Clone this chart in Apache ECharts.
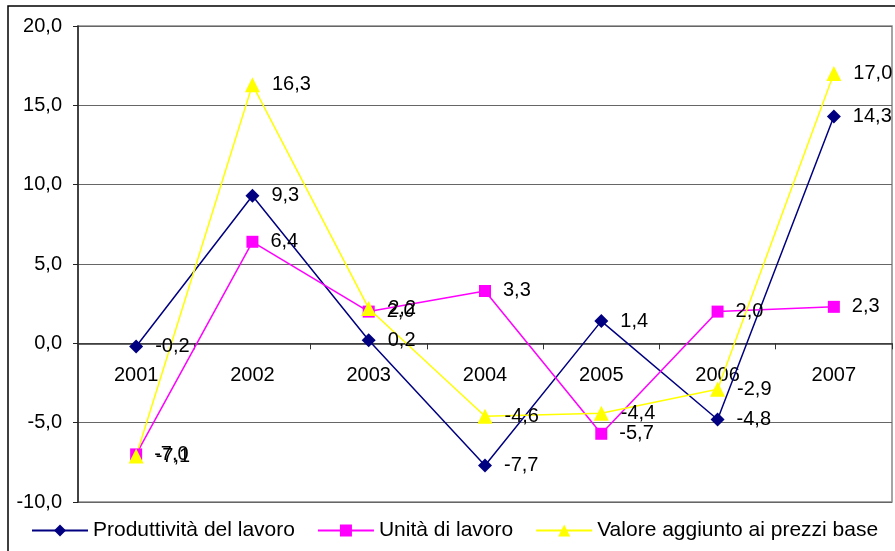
<!DOCTYPE html>
<html>
<head>
<meta charset="utf-8">
<script src="https://cdn.jsdelivr.net/npm/echarts@6/dist/echarts.min.js"></script>
<style>
  html, body { margin: 0; padding: 0; background: #fff; }
  #chart { width: 895px; height: 551px; }
</style>
</head>
<body>
<div id="chart"></div>
<script>
const years = ['2001', '2002', '2003', '2004', '2005', '2006', '2007'];
const produttivita = [-0.2, 9.3, 0.2, -7.7, 1.4, -4.8, 14.3];
const unita = [-7.0, 6.4, 2.0, 3.3, -5.7, 2.0, 2.3];
const valoreAggiunto = [-7.1, 16.3, 2.2, -4.6, -4.4, -2.9, 17.0];

const chart = echarts.init(document.getElementById('chart'));
const fmt = v => v.toFixed(1).replace('.', ',');
const font = 'Liberation Sans, Arial, sans-serif';

// grid: top 26, bottom edge at 502 -> zero line sits at 26 + 20/30 * 476
const gridTop = 26, gridBottom = 49, plotH = 551 - gridTop - gridBottom;
const zeroOffset = -(plotH * 10 / 30);

function lineSeries(name, data, color, symbol, size) {
    return {
        name: name,
        type: 'line',
        data: data,
        symbol: symbol,
        symbolSize: size,
        color: color,
        lineStyle: { color: color, width: 1.5 },
        itemStyle: { color: color },
        label: {
            show: true,
            position: 'right',
            distance: 12,
            color: '#000',
            fontFamily: font,
            fontSize: 20,
            formatter: p => fmt(p.value)
        },
        emphasis: { disabled: true },
        animation: false
    };
}

const options = {
    animation: false,
    graphic: [{
        type: 'rect',
        shape: { x: 8, y: 6, width: 900, height: 600 },
        style: { fill: 'none', stroke: '#000', lineWidth: 1.5 },
        silent: true,
        z: -1
    }],
    grid: {
        left: 78, right: 3, top: gridTop, bottom: gridBottom,
        show: true, borderColor: '#888', borderWidth: 1.5
    },
    legend: {
        bottom: 5,
        left: 26,
        itemWidth: 56,
        itemHeight: 15,
        itemGap: 22,
        textStyle: { fontFamily: font, fontSize: 21, color: '#000' },
        data: ['Produttività del lavoro', 'Unità di lavoro', 'Valore aggiunto ai prezzi base']
    },
    xAxis: {
        type: 'category',
        data: years,
        offset: zeroOffset,
        axisLine: { onZero: false, lineStyle: { color: '#333', width: 1.5 } },
        axisTick: { show: true, length: 6, lineStyle: { color: '#333' } },
        axisLabel: { margin: 22, color: '#000', fontFamily: font, fontSize: 20 }
    },
    yAxis: {
        type: 'value',
        min: -10, max: 20, interval: 5,
        axisLine: { show: true, lineStyle: { color: '#222', width: 1.5 } },
        axisTick: { show: true, length: 5, lineStyle: { color: '#222' } },
        splitLine: { lineStyle: { color: '#666', width: 1.2 } },
        axisLabel: { color: '#000', fontFamily: font, fontSize: 20, margin: 16, formatter: fmt }
    },
    series: [
        lineSeries('Produttività del lavoro', produttivita, '#000080', 'diamond', 14),
        lineSeries('Unità di lavoro', unita, '#FF00FF', 'rect', 12),
        lineSeries('Valore aggiunto ai prezzi base', valoreAggiunto, '#FFFF00', 'triangle', 15)
    ]
};
chart.setOption(options);
</script>
</body>
</html>
